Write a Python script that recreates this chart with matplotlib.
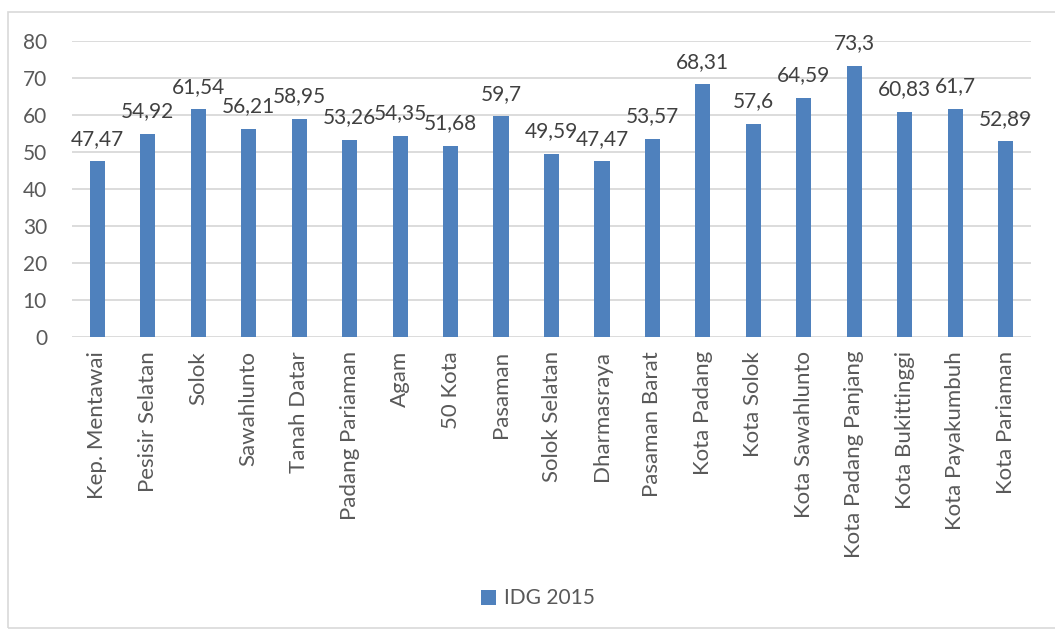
import matplotlib.pyplot as plt
from matplotlib.patches import Rectangle

# data
regions = ["Kep. Mentawai", "Pesisir Selatan", "Solok", "Sawahlunto", "Tanah Datar",
           "Padang Pariaman", "Agam", "50 Kota", "Pasaman", "Solok Selatan",
           "Dharmasraya", "Pasaman Barat", "Kota Padang", "Kota Solok",
           "Kota Sawahlunto", "Kota Padang Panjang", "Kota Bukittinggi",
           "Kota Payakumbuh", "Kota Pariaman"]
idg_2015 = [47.47, 54.92, 61.54, 56.21, 58.95, 53.26, 54.35, 51.68, 59.7, 49.59,
            47.47, 53.57, 68.31, 57.6, 64.59, 73.3, 60.83, 61.7, 52.89]
yticks = [0, 10, 20, 30, 40, 50, 60, 70, 80]

plt.rcParams['font.family'] = ['Lato', 'DejaVu Sans']

fig = plt.figure(figsize=(10.55, 6.3), dpi=100)
ax = fig.add_axes([72/1055, 1 - 337/630, (1031 - 72)/1055, (337 - 41)/630])

x = list(range(len(regions)))
bars = ax.bar(x, idg_2015, width=0.3, color='#4F81BD', label='IDG 2015', zorder=3)

for xi, v in zip(x, idg_2015):
    txt = ('%g' % v).replace('.', ',')
    ax.annotate(txt, (xi, v), xytext=(0, 9), textcoords='offset points',
                ha='center', va='bottom', fontsize=15, color='#404040')

ax.set_xlim(-0.5, len(regions) - 0.5)
ax.set_ylim(0, 80)
ax.set_yticks(yticks)
ax.set_xticks(x)
ax.set_xticklabels(regions, rotation=90, fontsize=16, color='#595959')
ax.tick_params(axis='y', labelsize=15, labelcolor='#595959', length=0, pad=18)
ax.tick_params(axis='x', length=0, pad=10)
ax.grid(axis='y', color='#D9D9D9', linewidth=1.3, zorder=0)
for s in ax.spines.values():
    s.set_visible(False)

fig.legend(handles=[bars], labels=['IDG 2015'], loc='center', bbox_to_anchor=(0.51, 0.05),
           frameon=False, fontsize=15, handlelength=0.7, handleheight=0.7,
           handletextpad=0.4, labelcolor='#595959')

fig.patches.append(Rectangle((8/1055, 2/630), 1.1, 616/630, transform=fig.transFigure,
                             fill=False, edgecolor='#D9D9D9', linewidth=1.2))

fig.savefig('out.png', dpi=100)
